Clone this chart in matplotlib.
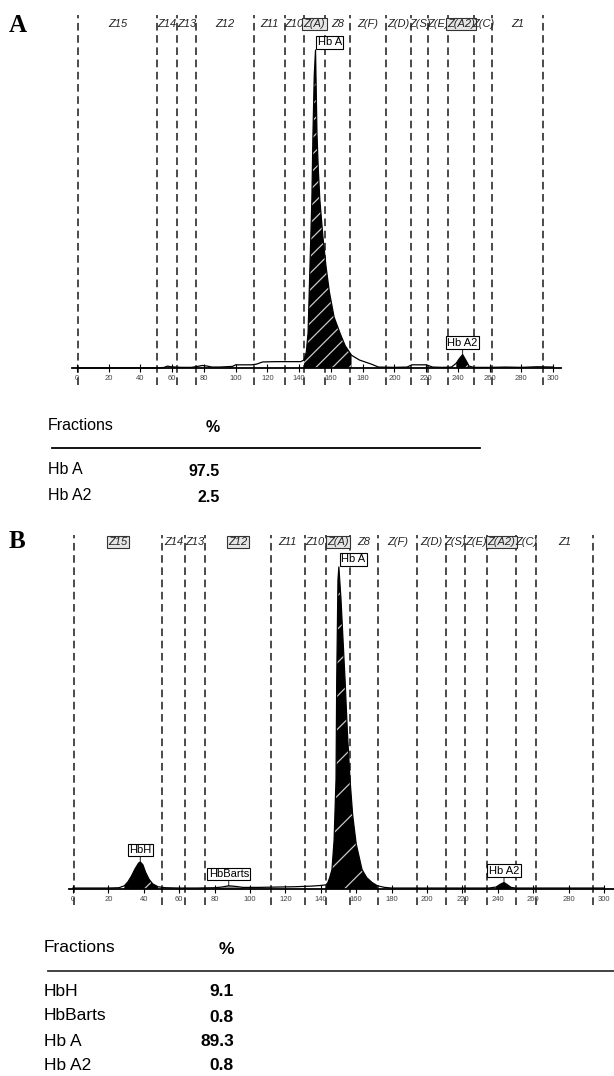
import numpy as np
import matplotlib.pyplot as plt

W, H = 614, 1076

zone_edges = [0.8, 50.4, 63.2, 74.8, 111.8, 130.8, 142.8, 156.4, 172.2,
              194.6, 210.6, 221.4, 233.8, 250.4, 261.4, 293.7]
zone_names = ['Z15', 'Z14', 'Z13', 'Z12', 'Z11', 'Z10', 'Z(A)', 'Z8', 'Z(F)',
              'Z(D)', 'Z(S)', 'Z(E)', 'Z(A2)', 'Z(C)', 'Z1']
boxed_a = ['Z(A)', 'Z(A2)']
boxed_b = ['Z15', 'Z12', 'Z(A)', 'Z(A2)']

# chromatogram A (retention, % of main peak height)
time_a = [0, 20, 40, 52, 55, 57, 59, 62, 66, 72, 76, 79, 82, 85, 90, 98, 100, 110,
          113, 117, 125, 135, 141, 143, 144.5, 145.6, 146.8, 148, 148.7, 149.5,
          150.3, 151.2, 152, 153, 155, 156.9, 159, 162, 165.7, 169, 173, 178, 185,
          190, 200, 208, 211, 220, 224, 230, 236, 239, 241, 243, 245, 247, 250,
          260, 270, 280, 290, 300]
signal_a = [0, 0, 0, 0, 0.2, 0.6, 0.4, 0.3, 0.2, 0.2, 0.5, 0.8, 0.6, 0.3, 0.3, 0.5,
            1.0, 1.0, 1.2, 1.9, 2.0, 2.0, 2.0, 2.5, 5, 11, 32, 53, 74, 92, 100, 74,
            63, 53, 41, 32, 24, 16, 11, 7, 4, 2.5, 1.3, 0.3, 0.2, 0.3, 1.0, 1.0,
            0.3, 0.2, 0.3, 1.5, 3.0, 4.2, 2.5, 0.6, 0.2, 0.2, 0.3, 0.2, 0.4, 0.3]

# chromatogram B
time_b = [0, 10, 20, 26, 29, 31, 33, 35, 37, 38, 39.5, 41, 43, 45, 48, 52, 60, 70,
          80, 84, 88, 92, 96, 105, 115, 125, 135, 140, 143, 144, 145, 146.3, 147.5,
          148.6, 149, 149.7, 150.2, 151.4, 152.5, 153.7, 155, 156.5, 158, 160,
          163.3, 166, 169, 172, 176, 180, 190, 200, 220, 235, 239, 241.5, 243.5,
          245.5, 247.5, 250, 260, 280, 300]
signal_b = [0.3, 0.3, 0.3, 0.4, 1.0, 2.2, 4.0, 6.2, 8.0, 8.4, 7.5, 5.2, 3.0, 1.6,
            0.7, 0.4, 0.3, 0.3, 0.4, 0.6, 1.0, 0.8, 0.5, 0.5, 0.6, 0.7, 0.9, 1.1,
            1.3, 2.0, 3.5, 6, 15, 34, 65, 96, 100, 90, 78, 65, 49, 34, 23, 14, 6,
            3.5, 2.0, 1.0, 0.5, 0.3, 0.3, 0.3, 0.3, 0.3, 0.6, 1.5, 2.0, 1.3, 0.5,
            0.3, 0.3, 0.3, 0.3]

peaks_a = ['Hb A', 'Hb A2']
peak_time_a = [150.3, 243]
peak_height_a = [100, 4.2]
peaks_b = ['HbH', 'HbBarts', 'Hb A', 'Hb A2']
peak_time_b = [38, 88, 150.2, 243.5]
peak_height_b = [8.4, 1.0, 100, 2.0]

fractions_a = ['Hb A', 'Hb A2']
percent_a = ['97.5', '2.5']
fractions_b = ['HbH', 'HbBarts', 'Hb A', 'Hb A2']
percent_b = ['9.1', '0.8', '89.3', '0.8']

ticks = np.arange(0, 301, 20)

plt.rcParams['font.family'] = ['Liberation Sans', 'DejaVu Sans']
plt.rcParams['hatch.linewidth'] = 0.9

fig = plt.figure(figsize=(W / 100, H / 100), dpi=100)


def fx(px):
    return px / W


def fy(py):
    return 1 - py / H


def chromatogram(x0, ppu, base, ppp, top_px, bot_px, xlim, t, s, fills, hatch,
                 boxed, peaks, ptime, pheight, line_top, line_bot):
    left = x0 + xlim[0] * ppu
    right = x0 + xlim[1] * ppu
    ax = fig.add_axes([fx(left), fy(bot_px), (right - left) / W, (bot_px - top_px) / H])
    ax.set_xlim(*xlim)
    ax.set_ylim(-(bot_px - base) / ppp, (base - top_px) / ppp)
    t = np.array(t)
    s = np.array(s)
    for lo, hi, col in fills:
        m = (t >= lo) & (t <= hi)
        ax.fill_between(t[m], 0, s[m], facecolor=col, edgecolor='#c8c8c8',
                        hatch=hatch if col == 'black' else None, linewidth=0, zorder=2)
    ax.plot(t, s, color='black', lw=0.9, zorder=3)
    ax.vlines(zone_edges, line_bot, line_top, colors='#1a1a1a', lw=1.1,
              linestyles=(0, (5, 3)), zorder=1)
    lab_y = (base - (top_px + 12)) / ppp
    for i, name in enumerate(zone_names):
        mid = (zone_edges[i] + zone_edges[i + 1]) / 2
        bb = None
        if name in boxed:
            bb = dict(boxstyle='square,pad=0.12', fc='#e6e6e6', ec='#333333', lw=0.8)
        ax.text(mid, lab_y, name, ha='center', va='center', fontsize=8,
                style='italic', color='#222222', bbox=bb, zorder=4)
    for name, pt, ph in zip(peaks, ptime, pheight):
        bb = dict(boxstyle='square,pad=0.12', fc='white', ec='black', lw=0.8)
        if ph > 50:
            ax.text(pt + 1.3, ph + 0.8, name, ha='left', va='bottom', fontsize=8,
                    bbox=bb, zorder=5)
        else:
            ax.annotate(name, (pt, ph), xytext=(0, 5), textcoords='offset points',
                        ha='center', va='bottom', fontsize=8, bbox=bb, zorder=5,
                        arrowprops=dict(arrowstyle='-', lw=0.6, shrinkA=0, shrinkB=0))
    for sp in ['left', 'right', 'top']:
        ax.spines[sp].set_visible(False)
    ax.spines['bottom'].set_position(('data', 0))
    ax.spines['bottom'].set_linewidth(1.3)
    ax.set_yticks([])
    ax.set_xticks(ticks)
    ax.tick_params(axis='x', direction='inout', length=6, width=0.8, pad=2,
                   labelsize=5.5, labelcolor='#444444')
    ax.patch.set_alpha(0)
    return ax


chromatogram(77, 1.587, 368, 3.18, 12, 390, (-3, 305), time_a, signal_a,
             [(143, 173, 'black'), (239, 247, 'black')], '//', boxed_a,
             peaks_a, peak_time_a, peak_height_a, 111, -5.3)
chromatogram(73, 1.77, 889, 3.22, 530, 908, (-2, 306), time_b, signal_b,
             [(143, 172, 'black'), (29, 48, 'black'), (80, 96, '#888888'),
              (239, 247.5, 'black')], '/', boxed_b,
             peaks_b, peak_time_b, peak_height_b, 110, -5)

fig.text(fx(9), fy(25), 'A', fontsize=18, fontweight='bold',
         family='Liberation Serif', va='center', ha='left')
fig.text(fx(9), fy(541), 'B', fontsize=18, fontweight='bold',
         family='Liberation Serif', va='center', ha='left')


def table(x_name, x_val, y_head, y_line, line_x, rows_y, names, vals, size, col):
    fig.text(fx(x_name), fy(y_head), 'Fractions', fontsize=size,
             va='center', ha='left')
    fig.text(fx(x_val), fy(y_head + 2), '%', fontsize=size,
             va='center', ha='right', fontweight='bold')
    fig.add_artist(plt.Line2D([fx(line_x[0]), fx(line_x[1])], [fy(y_line), fy(y_line)],
                              transform=fig.transFigure, color=col, lw=1.3))
    for yy, n, v in zip(rows_y, names, vals):
        fig.text(fx(x_name), fy(yy), n, fontsize=size, va='center', ha='left')
        fig.text(fx(x_val), fy(yy + 1), v, fontsize=size,
                 va='center', ha='right', fontweight='bold')


table(48, 220, 425, 448, (52, 480), [470, 496], fractions_a, percent_a, 11.5, 'black')
table(44, 234, 947, 971, (48, 614), [991, 1016, 1041, 1065], fractions_b, percent_b,
      12.5, '#333333')

fig.savefig('out.png', dpi=100)
